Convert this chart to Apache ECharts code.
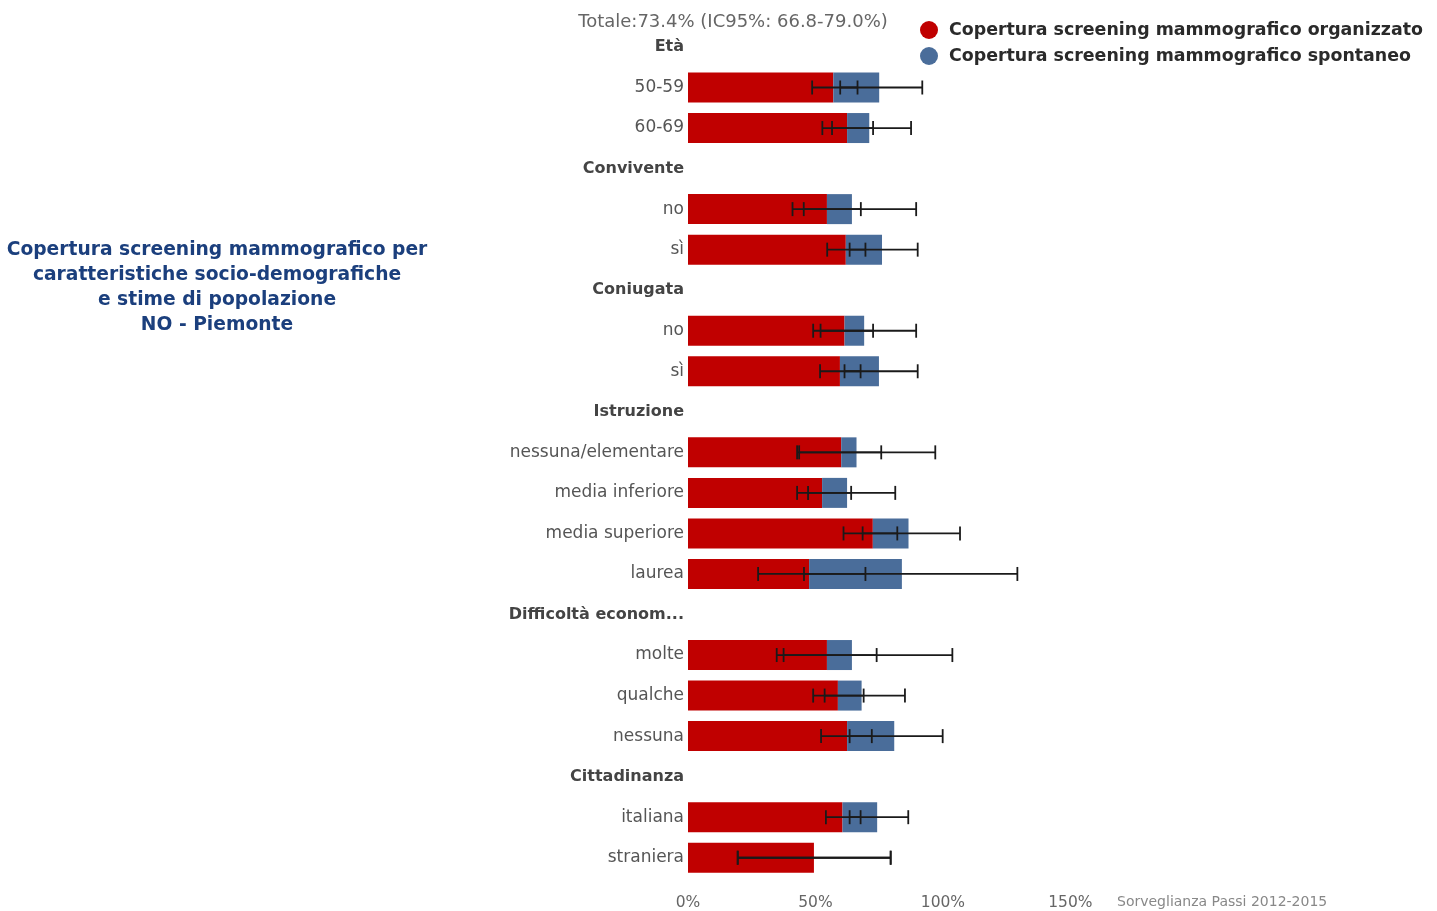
<!DOCTYPE html>
<html>
<head>
<meta charset="utf-8">
<script src="https://cdn.jsdelivr.net/npm/echarts@6/dist/echarts.min.js"></script>
<style>
html,body{margin:0;padding:0;background:#fff;}
#c{width:1437px;height:911px;}
</style>
</head>
<body>
<div id="c"></div>
<script>
// ---- data ----
var categories = ['Età','50-59','60-69','Convivente','no','sì','Coniugata','no','sì','Istruzione','nessuna/elementare','media inferiore','media superiore','laurea','Difficoltà economiche','molte','qualche','nessuna','Cittadinanza','italiana','straniera'];
var groupHeaders = ['Età','Convivente','Coniugata','Istruzione','Difficoltà economiche','Cittadinanza'];
var organizzato = [null,57.0,62.4,null,54.5,61.9,null,61.4,59.6,null,60.1,52.6,72.5,47.5,null,54.5,58.8,62.4,null,60.6,49.4];
var spontaneo   = [null,18.0,8.7,null,9.8,14.2,null,7.7,15.3,null,6.0,9.8,14.0,36.4,null,9.8,9.3,18.5,null,13.6,0];
var orgLow   = [null,48.7,52.7,null,41.0,54.6,null,49.1,51.8,null,42.8,42.8,61.0,27.5,null,34.8,49.1,52.2,null,54.1,19.5];
var orgHigh  = [null,66.5,72.6,null,67.8,69.6,null,72.6,67.7,null,75.8,64.0,82.1,69.6,null,74.0,68.9,72.1,null,67.7,79.5];
var totLow   = [null,59.7,56.5,null,45.4,63.4,null,52.0,61.4,null,43.6,47.1,68.5,45.5,null,37.5,53.6,63.4,null,63.4,19.5];
var totHigh  = [null,91.9,87.5,null,89.5,90.1,null,89.5,90.1,null,97.0,81.3,106.7,129.2,null,103.7,85.1,99.9,null,86.4,79.5];
var xTicks = [0,50,100,150];
var titleTotale = 'Totale:73.4% (IC95%: 66.8-79.0%)';
var leftTitle = 'Copertura screening mammografico per\ncaratteristiche socio-demografiche\ne stime di popolazione\nNO - Piemonte';
var sourceText = 'Sorveglianza Passi 2012-2015';
var seriesNames = ['Copertura screening mammografico organizzato','Copertura screening mammografico spontaneo'];

function toBar(arr){ return arr.map(function(v){ return v === null ? '-' : v; }); }
function ciData(lo, hi){
  var out = [];
  for (var i = 0; i < lo.length; i++) { if (lo[i] !== null) out.push([lo[i], hi[i], i]); }
  return out;
}
function renderCI(params, api){
  var idx = api.value(2);
  var p1 = api.coord([api.value(0), idx]);
  var p2 = api.coord([api.value(1), idx]);
  var y = p1[1], h = 7;
  var st = {stroke:'#1a1a1a', lineWidth:1.8};
  return {type:'group', children:[
    {type:'line', shape:{x1:p1[0], y1:y, x2:p2[0], y2:y}, style:st},
    {type:'line', shape:{x1:p1[0], y1:y-h, x2:p1[0], y2:y+h}, style:st},
    {type:'line', shape:{x1:p2[0], y1:y-h, x2:p2[0], y2:y+h}, style:st}
  ]};
}

var chart = echarts.init(document.getElementById('c'), null, {renderer:'canvas'});
var font = 'DejaVu Sans';
chart.setOption({
  animation:false,
  backgroundColor:'#fff',
  title:[
    {text:titleTotale, left:728, top:8, textAlign:'center',
     textStyle:{fontFamily:font, fontSize:18, fontWeight:'normal', color:'#666'}},
    {text:leftTitle, left:212, top:233, textAlign:'center',
     textStyle:{fontFamily:font, fontSize:18.7, fontWeight:'bold', color:'#1b3f7d', lineHeight:25}}
  ],
  legend:{
    data:seriesNames, orient:'vertical', left:920, top:21, padding:0,
    itemWidth:18, itemHeight:18, itemGap:8, icon:'circle',
    textStyle:{fontFamily:font, fontSize:17.4, fontWeight:'bold', color:'#2a2a2a', padding:[0,0,0,6]}
  },
  graphic:[
    {type:'text', left:1117, top:895, style:{text:sourceText, font:'14px "DejaVu Sans"', fill:'#888'}}
  ],
  grid:{left:688, right:366.6, top:26.7, bottom:32.7},
  xAxis:{
    type:'value', min:xTicks[0], max:xTicks[xTicks.length-1], interval:50,
    axisLine:{show:false}, axisTick:{show:false}, splitLine:{show:false},
    axisLabel:{formatter:'{value}%', margin:17, fontFamily:font, fontSize:15.5, color:'#666'}
  },
  yAxis:{
    type:'category', data:categories, inverse:true,
    axisLine:{show:false}, axisTick:{show:false},
    axisLabel:{
      margin:4, width:178, overflow:'truncate', ellipsis:'...',
      fontFamily:font, fontSize:17, color:'#555',
      formatter:function(v){ return groupHeaders.indexOf(v) >= 0 ? '{h|' + v + '}' : v; },
      rich:{h:{fontFamily:font, fontSize:16, fontWeight:'bold', color:'#444'}}
    }
  },
  series:[
    {name:seriesNames[0], type:'bar', stack:'cov', data:toBar(organizzato), barWidth:30,
     itemStyle:{color:'#c00000'}},
    {name:seriesNames[1], type:'bar', stack:'cov', data:toBar(spontaneo), barWidth:30,
     itemStyle:{color:'#4a6d9a'}},
    {type:'custom', renderItem:renderCI, data:ciData(orgLow, orgHigh), encode:{x:[0,1], y:2}, z:5},
    {type:'custom', renderItem:renderCI, data:ciData(totLow, totHigh), encode:{x:[0,1], y:2}, z:5}
  ]
});
</script>
</body>
</html>
